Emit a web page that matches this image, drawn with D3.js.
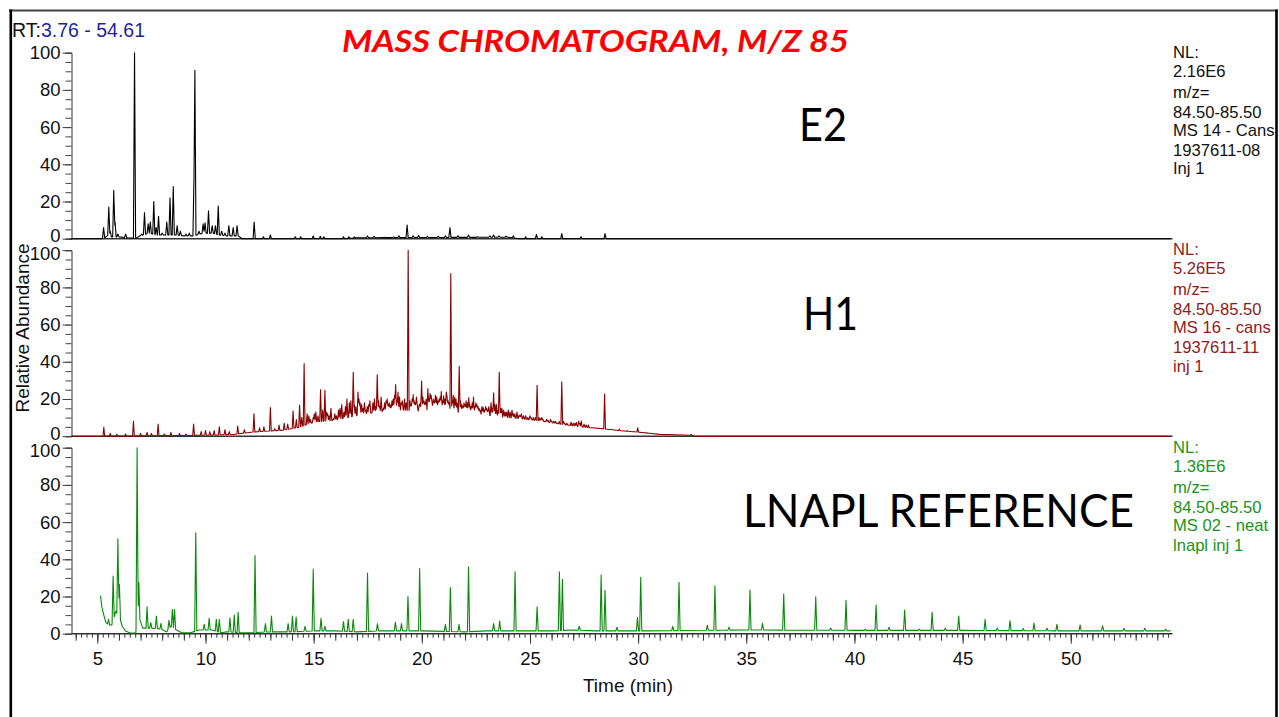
<!DOCTYPE html>
<html><head><meta charset="utf-8">
<script src="https://cdn.jsdelivr.net/npm/d3@7"></script>
<style>
body{margin:0;background:#fff;}
svg{display:block;font-family:"Liberation Sans",Arial,sans-serif;}
</style>
</head><body><svg id="c" width="1279" height="717"></svg>
<script>
// ---------------- DATA ----------------
const rtRange = [3.76, 54.61];
const xMajorTicks = [5, 10, 15, 20, 25, 30, 35, 40, 45, 50];
const yTickLabels = [0, 20, 40, 60, 80, 100];
const titleText = "MASS CHROMATOGRAM, M/Z 85";
const panelLabels = ["E2", "H1", "LNAPL REFERENCE"];

const infoE2 = ["NL:", "2.16E6", "m/z=", "84.50-85.50", "MS 14 - Cans", "1937611-08", "Inj 1"];
const infoH1 = ["NL:", "5.26E5", "m/z=", "84.50-85.50", "MS 16 - cans", "1937611-11", "inj 1"];
const infoLNAPL = ["NL:", "1.36E6", "m/z=", "84.50-85.50", "MS 02 - neat", "lnapl inj 1"];

// E2 : [time (min), relative abundance]
const e2Peaks = [[5.29,6],[5.53,17],[5.6,4],[5.76,26],[5.82,9],[5.95,2.5],[6.31,2.5],[6.72,100],[7.05,2.5],[7.18,14],
 [7.35,8],[7.45,9],[7.61,20],[7.72,6],[7.83,12],[8.0,3],[8.21,9],[8.36,22],[8.51,28],[8.69,7],[8.84,4],[9.1,2.5],
 [9.25,3],[9.47,34],[9.51,90.5],[9.7,4],[9.89,8],[9.98,8.6],[10.14,15],[10.31,7],[10.46,7],[10.59,17.6],[10.75,4],
 [10.9,3],[11.08,7],[11.28,6],[11.46,7],[12.25,9],[12.68,1],[13.0,2],[14.15,1],[14.4,1],[14.98,1.5],[15.31,1.3],
 [15.47,1],[16.38,1],[16.63,1],[16.88,1],[17.49,1.5],[17.79,1.3],[18.28,0.8],[18.7,1],[18.94,1.5],[19.32,7.4],
 [19.6,1.5],[19.85,1.8],[20.26,1.3],[20.76,1.3],[21.09,1.5],[21.3,6],[21.67,1.5],[22.16,2],[22.57,1],[23.15,1.5],
 [23.32,2],[23.57,1.5],[23.9,1.3],[24.23,1.5],[24.8,1],[25.3,2.3],[25.55,1],[26.47,2.7],[27.36,1],[28.47,2.7]];
const e2Baseline = [[3.76,0],[5.2,0],[5.35,0.5],[5.5,2],[5.65,1],[6.0,1],[6.4,0.5],[6.8,0.3],[7.0,1.5],[7.4,3],
 [7.7,2],[8.6,2],[9.0,1.5],[9.4,1.5],[9.6,2],[9.9,3],[10.3,3],[10.6,2],[11.0,1.5],[11.5,1.5],[11.7,0],[16.5,0],
 [17,0.5],[24,0.8],[24.5,0],[54.61,0]];

// H1
const h1Peaks = [[5.30,4.8],[5.6,1.5],[5.9,1],[6.3,1.2],[6.67,8],[7.0,1.5],[7.3,2],[7.5,1.5],[7.81,6.5],[8.1,1.2],
 [8.4,2],[8.8,1.5],[9.1,1.2],[9.45,6.5],[9.8,2.5],[10.0,3],[10.2,2.5],[10.4,3],[10.64,5],[10.9,3.5],[11.1,2.5],
 [11.49,5.4],[11.8,3.5],[12.24,12],[12.5,4.5],[12.7,5],[13.0,15.4],[13.2,4],[13.4,6],[13.64,7],[13.8,6.5],
 [14.05,13.6],[14.2,9],[14.35,16.7],[14.56,39],[14.7,12],[14.85,9],[14.98,10],[15.1,13],[15.2,11],[15.32,25],
 [15.42,14],[15.52,24.7],[15.65,12],[15.8,15],[15.92,9.5],[16.05,11],[16.15,14],[16.30,17],[16.4,13],[16.54,20],
 [16.65,18],[16.83,34.4],[16.95,16],[17.05,23.8],[17.15,18],[17.28,15],[17.4,14],[17.55,17],[17.67,12],[17.81,20],
 [17.94,33],[18.05,16],[18.22,15],[18.35,19],[18.45,17],[18.56,16.7],[18.68,20],[18.79,27.8],[18.9,23.8],
 [19.05,18],[19.2,20],[19.37,100],[19.5,17],[19.6,22.4],[19.7,18],[19.79,16.7],[19.88,17],[19.99,29.6],[20.1,19],
 [20.2,20],[20.28,25.6],[20.38,23],[20.47,18.5],[20.58,19],[20.69,21],[20.8,20],[20.9,24],[21.01,21.7],[21.13,23.8],
 [21.22,19],[21.34,87.5],[21.45,22],[21.58,20],[21.73,37.6],[21.85,17],[21.95,18],[22.05,19],[22.17,20.8],
 [22.28,16],[22.39,21],[22.5,18],[22.6,16],[22.7,14],[22.84,15.4],[22.95,16],[23.05,14],[23.2,18],[23.32,23.3],
 [23.45,17],[23.58,34.4],[23.7,15],[23.85,13],[24.0,14],[24.17,14],[24.3,12],[24.5,11.3],[24.6,12],[24.7,11],
 [24.9,10],[25.05,10],[25.33,27.4],[25.49,9.5],[25.6,9],[25.7,8],[25.83,8.6],[26.0,8],[26.1,8],[26.25,7],
 [26.47,29.2],[26.6,7],[26.8,6],[26.9,7.5],[27.0,7],[27.15,7.3],[27.25,8],[27.37,8.2],[27.6,6],[27.8,4.5],
 [28.0,4.5],[28.45,22.6],[28.7,3.5],[29.13,3.8],[29.5,3],[29.8,2.5],[29.98,4.5],[30.5,1.5],[32.45,1],
 [14.45,10],[14.78,11],[15.03,12],[15.6,13],[15.72,11],[15.98,12],[16.22,15],[16.47,16],[16.72,19],[16.88,17],
 [17.1,20],[17.22,17],[17.35,18],[17.48,16],[17.6,19],[17.74,18],[17.88,16],[18.0,19],[18.12,21],[18.28,18],
 [18.4,20],[18.5,18],[18.62,19],[18.74,22],[18.85,19],[18.97,21],[19.1,19],[19.28,18],[19.45,19],[19.55,20],
 [19.65,19],[19.75,21],[19.93,18],[20.05,21],[20.15,18],[20.33,20],[20.43,22],[20.53,20],[20.63,22],[20.75,19],
 [20.85,21],[20.96,19],[21.07,20],[21.17,21],[21.27,18],[21.4,19],[21.52,21],[21.64,18],[21.79,19],[21.9,16],
 [22.0,17],[22.11,18],[22.22,17],[22.33,18],[22.45,16],[22.55,17],[22.65,15],[22.78,16],[22.9,14],[23.0,15],
 [23.1,16],[23.26,15],[23.38,17],[23.52,14],[23.64,15],[23.78,14],[23.92,13],[24.08,13],[24.23,12],[24.4,13],
 [24.55,11],[24.8,11],[25.0,11],[25.15,10],[25.25,10],[25.42,10],[25.55,10],[25.77,9],[25.95,9],[26.18,8],
 [26.35,8],[26.55,8],[26.7,7],[27.08,7],[27.3,7],[27.5,6.5],[27.7,6]];
const h1Baseline = [[3.76,0],[5.2,0],[8,0.3],[10,0.5],[11.3,1],[12.24,2.3],[13.56,3.2],[14.3,4.7],[15.07,7.7],
 [16.0,8.6],[16.96,11],[17.9,13],[18.84,14.3],[19.79,13.6],[20.73,15],[21.67,13],[22.62,12],[23.56,10.4],
 [24.5,9.5],[25.45,8.2],[26.39,6.5],[27.33,5],[28.28,4.1],[29.22,2.9],[30.17,2],[31.0,1],[32.43,0.5],[32.6,0],
 [54.61,0]];

// LNAPL reference
const lnaplPeaks = [[5.52,7.7],[5.73,31],[5.95,51],[6.02,26.6],[6.84,100],[6.92,27.5],[7.3,14.4],[7.47,6],
 [7.73,9.5],[7.94,5.6],[8.31,7.2],[8.47,13],[8.57,13],[9.55,54.3],[9.94,5],[10.17,8.3],[10.5,7.7],[10.64,7.7],
 [11.13,8.6],[11.33,10],[11.51,11.5],[12.29,42],[12.77,5.4],[13.05,9.5],[13.82,5.4],[14.02,9.5],[14.19,9],
 [14.6,4],[14.98,34.7],[15.34,8.3],[15.52,4],[16.38,6.5],[16.6,7.7],[16.83,7.7],[17.49,32.6],[17.95,5.4],
 [18.78,6.3],[19.06,5.5],[19.36,20],[19.9,35],[21.09,5],[21.32,24.8],[21.72,5],[22.16,36],[23.32,5.4],[23.6,6.8],
 [24.31,33.3],[25.33,14.4],[26.36,33.3],[26.5,29.3],[27.28,4],[28.29,31.5],[28.47,23.4],[29.02,3.5],[29.97,8.8],
 [30.12,30.3],[31.6,4],[31.89,27.6],[33.2,4.5],[33.55,25.8],[34.2,3.5],[35.17,23.5],[35.75,5.6],[36.73,21.3],
 [38.21,19.9],[38.9,3],[39.61,17.9],[40.5,2.5],[41.0,15.4],[41.6,3.5],[42.32,12.7],[43.0,2.5],[43.59,11.5],
 [44.2,3],[44.82,9.5],[46.04,7.7],[46.6,3],[47.19,7],[47.8,2.8],[48.3,5.7],[48.9,3],[49.36,5],[50.43,4.7],
 [51.47,4.3],[52.46,2.9],[53.42,2.9],[54.39,2.3]];
const lnaplBaseline = [[5.15,20.5],[5.2,15],[5.3,10],[5.4,6],[5.5,5],[5.6,4.5],[5.68,5],[5.85,12],[6.05,8],
 [6.15,4],[6.3,1.5],[6.5,0.5],[6.78,0.3],[6.95,8],[7.1,3],[7.5,3],[7.9,2.5],[8.2,1],[8.4,4],[8.6,2],[8.9,0.5],
 [9.3,0.5],[9.7,2],[10.3,2],[10.7,0.5],[11.0,1],[11.6,0.5],[12.0,0.5],[13.0,1],[14.0,1],[15,1.5],[16,1.5],
 [17,1],[18,1.5],[20,1.5],[22,1],[23,1.5],[26,1.5],[27,2],[28,1.5],[30,1.5],[35,2],[40,1.8],[45,1.8],[50,1.5],
 [54.61,1.5]];

// ---------------- DRAW ----------------
const svg = d3.select("#c");
const W = 1279, H = 717;

const x = d3.scaleLinear().domain(rtRange).range([70.5, 1170.5]);
const panelTop0 = 52.7, panelStep = 197.5, panelH = 186;

const panels = [
  {peaks: e2Peaks, base: e2Baseline, color: "#000000", infoColor: "#111111", info: infoE2, label: panelLabels[0],
   lx: 799, ly: 88, lw: 48, hw: 0.05},
  {peaks: h1Peaks, base: h1Baseline, color: "#8b0000", infoColor: "#8e1b1b", info: infoH1, label: panelLabels[1],
   lx: 803, ly: 80, lw: 55, hw: 0.04},
  {peaks: lnaplPeaks, base: lnaplBaseline, color: "#0a8a0a", infoColor: "#1a951a", info: infoLNAPL, label: panelLabels[2],
   lx: 743, ly: 79, lw: 391, hw: 0.05}
];
const infoOffsets = [-1, 18, 39, 59, 77.3, 97.3, 115.6];

function buildTrace(peaks, base, hw) {
  const b = d3.scaleLinear().domain(base.map(d => d[0])).range(base.map(d => d[1])).clamp(true);
  const t0 = base[0][0], t1 = base[base.length - 1][0];
  const set = new Set(base.map(d => d[0]));
  peaks.forEach(p => { set.add(+(p[0] - hw).toFixed(4)); set.add(p[0]); set.add(+(p[0] + hw).toFixed(4)); });
  const ts = Array.from(set).filter(t => t >= t0 && t <= t1).sort((a, c) => a - c);
  return ts.map(t => {
    let v = b(t);
    peaks.forEach(p => {
      const d = Math.abs(t - p[0]);
      if (d < hw) { const bb = b(p[0]); v = Math.max(v, bb + (p[1] - bb) * (1 - d / hw)); }
    });
    return [t, v];
  });
}

// outer frame
svg.append("line").attr("x1", 9).attr("x2", 1278).attr("y1", 10.5).attr("y2", 10.5)
  .attr("stroke", "#444").attr("stroke-width", 2);
svg.append("line").attr("x1", 10.8).attr("x2", 10.8).attr("y1", 9.5).attr("y2", H)
  .attr("stroke", "#000").attr("stroke-width", 2.6);
svg.append("line").attr("x1", 1276.5).attr("x2", 1276.5).attr("y1", 9.5).attr("y2", H)
  .attr("stroke", "#000").attr("stroke-width", 2.6);

panels.forEach((p, i) => {
  const top = panelTop0 + i * panelStep;
  const y = d3.scaleLinear().domain([0, 100]).range([top + panelH, top]);
  const g = svg.append("g");

  // baseline axis line
  g.append("line").attr("x1", 71.5).attr("x2", 1172.5).attr("y1", y(0)).attr("y2", y(0))
    .attr("stroke", "#333").attr("stroke-width", 1.6);

  // y axis minor ticks
  const yMinor = g.append("g").attr("transform", `translate(71.5,0)`)
    .call(d3.axisLeft(y).tickValues(d3.range(0, 101, 5)).tickSize(6).tickFormat(""));
  yMinor.select(".domain").attr("stroke", "#333");
  yMinor.selectAll(".tick line").attr("stroke", "#444");
  const yMajor = g.append("g").attr("transform", `translate(71.5,0)`)
    .call(d3.axisLeft(y).tickValues(yTickLabels).tickSize(9).tickPadding(2));
  yMajor.select(".domain").remove();
  yMajor.selectAll(".tick line").attr("stroke", "#444");
  yMajor.selectAll(".tick text").attr("font-size", 18.5).attr("fill", "#111")
    .attr("font-family", '"Liberation Sans", Arial, sans-serif')
    .attr("y", d => (d === 0 && i < 2) ? -3 : (d === 100 && i > 0) ? 3 : 0);

  // trace
  const pts = buildTrace(p.peaks, p.base, p.hw);
  g.append("path").datum(pts)
    .attr("d", d3.line().x(d => x(d[0])).y(d => y(d[1])))
    .attr("fill", "none").attr("stroke", p.color).attr("stroke-width", 1.1)
    .attr("stroke-linejoin", "round");

  // sample label
  g.append("text").attr("x", p.lx).attr("y", top + p.ly)
    .attr("font-family", "Lato, 'Open Sans', sans-serif").attr("font-size", 46)
    .attr("textLength", p.lw).attr("lengthAdjust", "spacingAndGlyphs")
    .attr("fill", "#000").text(p.label);

  // info text
  p.info.forEach((s, k) => {
    g.append("text").attr("x", 1173).attr("y", top + infoOffsets[k]).attr("dy", "0.36em")
      .attr("font-size", 16.6).attr("fill", p.infoColor).text(s);
  });
});

// x axis (bottom panel)
const yAxisBottom = panelTop0 + 2 * panelStep + panelH;
const xMinor = svg.append("g").attr("transform", `translate(0,${yAxisBottom})`)
  .call(d3.axisBottom(x).tickValues(d3.range(4, 54.6, 0.25)).tickSize(4).tickFormat(""));
xMinor.select(".domain").remove();
xMinor.selectAll(".tick line").attr("stroke", "#333");
const xMid = svg.append("g").attr("transform", `translate(0,${yAxisBottom})`)
  .call(d3.axisBottom(x).tickValues(d3.range(4, 55, 1)).tickSize(7).tickFormat(""));
xMid.select(".domain").remove();
xMid.selectAll(".tick line").attr("stroke", "#333");
const xMaj = svg.append("g").attr("transform", `translate(0,${yAxisBottom})`)
  .call(d3.axisBottom(x).tickValues(xMajorTicks).tickSize(10).tickPadding(8));
xMaj.select(".domain").remove();
xMaj.selectAll(".tick line").attr("stroke", "#333");
xMaj.selectAll(".tick text").attr("font-size", 18.5).attr("fill", "#111")
  .attr("font-family", '"Liberation Sans", Arial, sans-serif');

// axis titles
svg.append("text").attr("x", 628).attr("y", 692).attr("text-anchor", "middle")
  .attr("font-size", 19).attr("fill", "#111").text("Time (min)");
svg.append("text").attr("transform", "translate(29,328) rotate(-90)").attr("text-anchor", "middle")
  .attr("font-size", 19).attr("fill", "#111").text("Relative Abundance");

// RT range
const rt = svg.append("text").attr("x", 12).attr("y", 36.5).attr("font-size", 19.5);
rt.append("tspan").attr("fill", "#111").text("RT:");
rt.append("tspan").attr("fill", "#1f1fa0").text(rtRange[0].toFixed(2) + " - " + rtRange[1].toFixed(2));

// title
svg.append("text").attr("x", 342).attr("y", 52)
  .attr("font-family", "Lato, 'Open Sans', sans-serif").attr("font-weight", "bold").attr("font-style", "italic")
  .attr("font-size", 31).attr("fill", "#ff0000")
  .attr("textLength", 507).attr("lengthAdjust", "spacingAndGlyphs").text(titleText);
</script>
</body></html>
